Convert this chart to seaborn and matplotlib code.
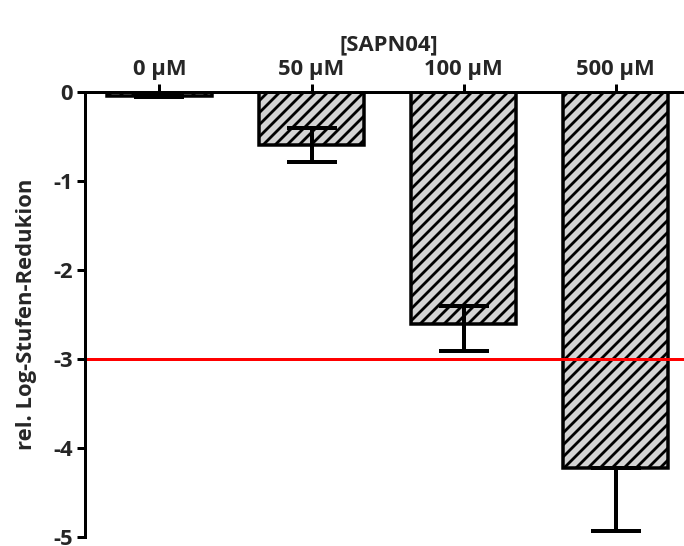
import matplotlib
matplotlib.use("Agg")
import matplotlib.pyplot as plt
import seaborn as sns
import pandas as pd
import numpy as np

categories = ["0 µM", "50 µM", "100 µM", "500 µM"]
values = [-0.04, -0.60, -2.61, -4.22]
err_lower = [0.02, 0.19, 0.30, 0.71]
err_upper = [0.02, 0.20, 0.21, 0.0]
yticks = [0, -1, -2, -3, -4, -5]
threshold = -3
title_text = "[SAPN04]"
ylabel_text = "rel. Log-Stufen-Redukion"

sns.set_theme(style="white")
plt.rcParams['font.family'] = ['Open Sans', 'DejaVu Sans']
plt.rcParams['hatch.linewidth'] = 2.8
plt.rcParams['hatch.color'] = 'black'

DPI = 72
FS = 22
fig = plt.figure(figsize=(684 / DPI, 546 / DPI), dpi=DPI)
ax = fig.add_axes([85 / 684, 1 - 537 / 546, 1 - 85 / 684, (537 - 92) / 546])

df = pd.DataFrame({"conc": categories, "val": values})
sns.barplot(data=df, x="conc", y="val", order=categories, color="#d3d3d3",
            saturation=1, width=0.69, edgecolor="black", linewidth=3.5,
            hatch="//", errorbar=None, ax=ax, zorder=2)

xs = np.arange(len(categories))
ax.errorbar(xs, values, yerr=[err_lower, err_upper], fmt="none", ecolor="black",
            elinewidth=4, capsize=25, capthick=4, zorder=5, clip_on=False)

ax.axhline(threshold, color="red", lw=3, zorder=4)

ax.set_ylim(-5, 0)
ax.set_xlim(-0.49, 3.45)
ax.set_yticks(yticks)
ax.set_yticklabels([str(t) for t in yticks])

ax.xaxis.tick_top()
ax.xaxis.set_label_position("top")
ax.set_xlabel(title_text, fontsize=FS, fontweight="bold", labelpad=9)
ax.set_ylabel(ylabel_text, fontsize=FS, fontweight="bold", labelpad=16)
ax.xaxis.label.set_x(0.507)

for s in ["bottom", "right"]:
    ax.spines[s].set_visible(False)
for s in ["top", "left"]:
    ax.spines[s].set_linewidth(3)
    ax.spines[s].set_color("black")
    ax.spines[s].set_zorder(6)

ax.tick_params(axis="both", which="both", length=8, width=3, color="black",
               labelsize=FS, pad=4, direction="out")
ax.tick_params(axis="x", top=True, bottom=False, labeltop=True, labelbottom=False)
ax.tick_params(axis="y", left=True, right=False)
for lab in ax.get_xticklabels() + ax.get_yticklabels():
    lab.set_fontweight("bold")

ax.set_facecolor("white")
fig.patch.set_facecolor("white")
fig.savefig("out.png", dpi=DPI, facecolor="white")
